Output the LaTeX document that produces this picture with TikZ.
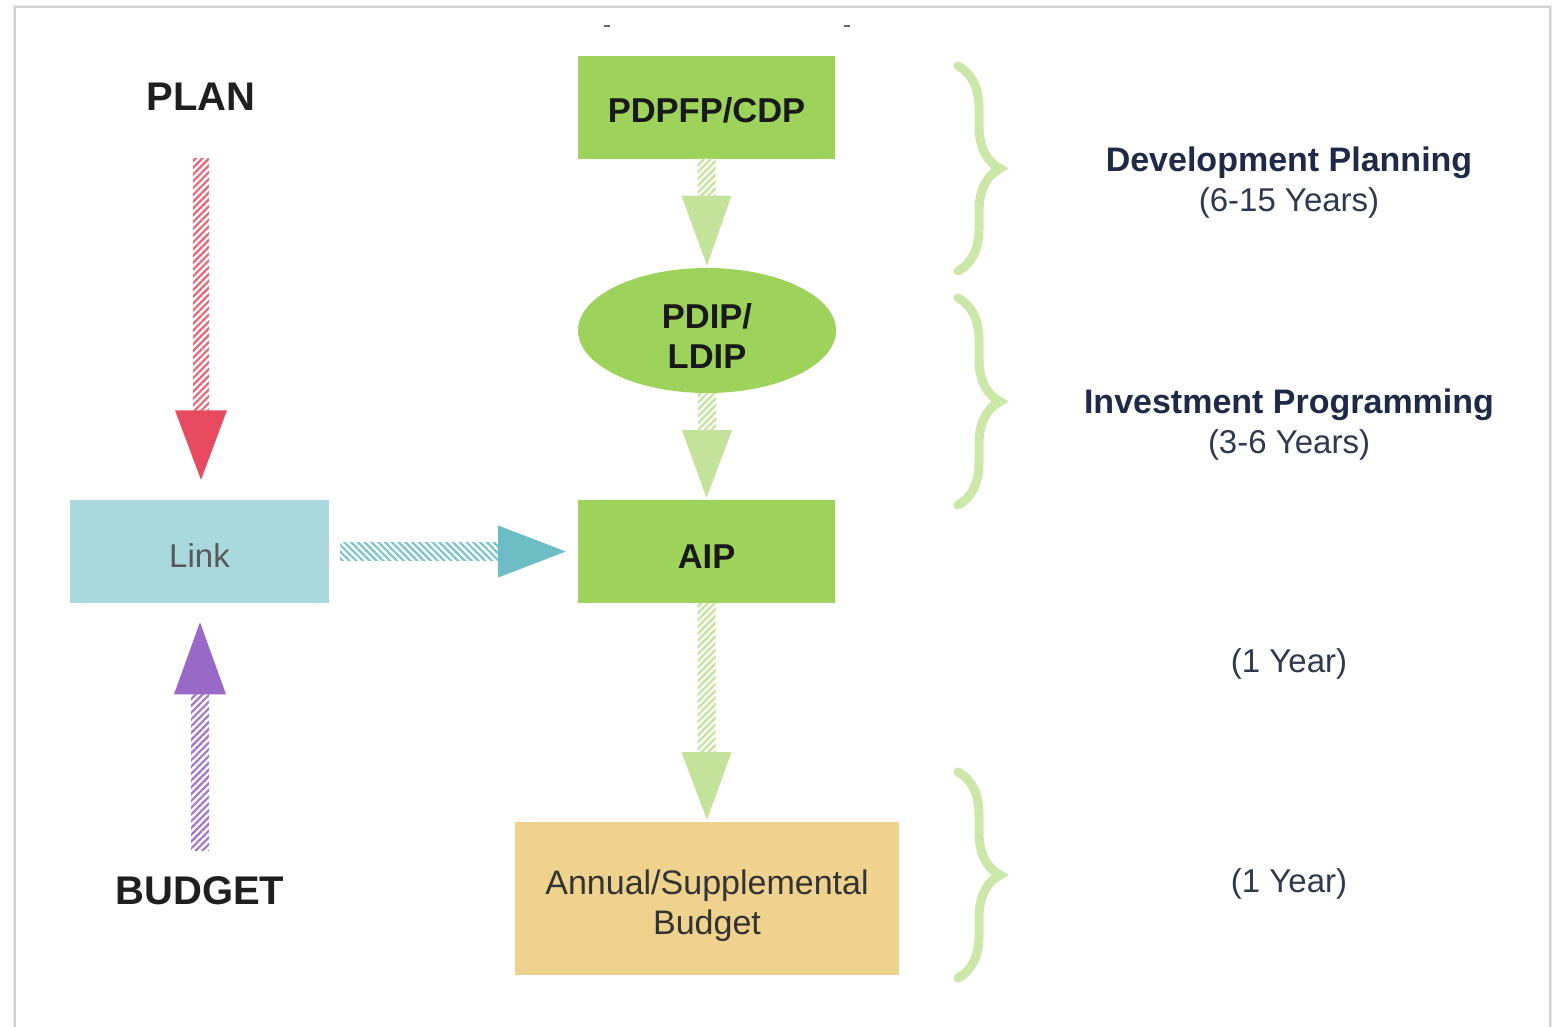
\documentclass[tikz,border=0pt]{standalone}
\usepackage{fontspec}
\setmainfont{Liberation Sans}
\usetikzlibrary{calc,shapes.geometric,patterns.meta,decorations.pathreplacing}
\definecolor{cred}{HTML}{E84A5F}
\definecolor{cpurple}{HTML}{9A68C6}
\definecolor{cteal}{HTML}{6DBDC5}
\definecolor{cgreenarrow}{HTML}{C4E39A}
\definecolor{cgreenbox}{HTML}{9DD35B}
\definecolor{clink}{HTML}{A9D9DC}
\definecolor{cbudget}{HTML}{EED28D}
\definecolor{cbrace}{HTML}{CCE8A8}
\definecolor{cnavy}{HTML}{1E2A47}
\definecolor{cgraytext}{HTML}{2F3A4F}
\newcommand\sidetitlefont{\fontsize{34}{40}\selectfont\bfseries}
\tikzset{
  bigword/.style={font=\fontsize{40}{44}\selectfont\bfseries, text=black!88},
  greenbox/.style={fill=cgreenbox, draw=none, minimum width=257pt, minimum height=103pt, inner sep=0pt, font=\fontsize{34.5}{40}\selectfont\bfseries, text=black!90, text depth=0pt},
  sidelabel/.style={align=center, text=cgraytext, font=\fontsize{33}{40}\selectfont},
  bracestyle/.style={draw=cbrace, line width=9pt, line cap=round, decorate, decoration={brace, amplitude=42pt}},
  hatchv/.style={pattern={Lines[angle=45,distance=4.8pt,line width=2.2pt]}, pattern color=#1},
  hatchh/.style={pattern={Lines[angle=-45,distance=4.8pt,line width=2.2pt]}, pattern color=#1}
}
\begin{document}
\begin{tikzpicture}[x=1pt,y=-1pt]
\useasboundingbox (0,0) rectangle (1562,1026);
% card
\fill[white] (0,0) rectangle (1562,1026);
\draw[black!8, line width=4pt] (15,7) rectangle (1550,1060);
\draw[black!18, line width=1.2pt, fill=white] (15,7) rectangle (1550,1060);
\draw[black!60, line width=1.5pt] (604,26) -- (610,26);
\draw[black!60, line width=1.5pt] (844,26) -- (850,26);

% left column
\node[bigword] (plan) at (201,97) {PLAN};
\node[bigword] (budgetword) at (200,891) {BUDGET};
\node[fill=clink, minimum width=259pt, minimum height=103pt, inner sep=0pt,
      text height=32pt, text depth=0pt,
      font=\fontsize{33}{38}\selectfont, text=black!65] (link) at (199.5,551.5) {Link};

% centre column
\node[greenbox, text height=31.5pt] (pdpfp) at (706.5,107) {PDPFP/CDP};
\node[ellipse, fill=cgreenbox, minimum width=258pt, minimum height=125pt, inner sep=0pt,
      label={[yshift=-5pt, align=center, font=\fontsize{34.5}{40}\selectfont\bfseries, text=black!90]center:PDIP/\\LDIP}] (pdip) at (707,330.5) {};
\node[greenbox, text height=33.5pt] (aip) at (706.5,551.5) {AIP};
\node[fill=cbudget, minimum width=384pt, minimum height=153pt, inner sep=0pt,
      label={[yshift=-7pt, align=center, font=\fontsize{34}{40}\selectfont, text=black!80]center:Annual/Supplemental\\Budget}] (annual) at (707,898.5) {};

% right labels
\node[sidelabel] (devplan) at (1289,183) {\textcolor{cnavy}{\sidetitlefont Development Planning}\\(6-15 Years)};
\node[sidelabel] (invprog) at (1289,425) {\textcolor{cnavy}{\sidetitlefont Investment Programming}\\(3-6 Years)};
\node[sidelabel] (oneyear1) at (1289,664) {(1 Year)};
\node[sidelabel] (oneyear2) at (1289,884) {(1 Year)};

% braces
\draw[bracestyle] (958,66) -- (958,271);
\draw[bracestyle] (958,298) -- (958,505);
\draw[bracestyle] (958,772) -- (958,978);

% red arrow PLAN -> Link
\coordinate (rtop) at ($(plan.south)+(0,44)$);
\path[hatchv=cred!85] ($(rtop)+(-8,0)$) rectangle ($(rtop)+(8,252)$);
\fill[cred] ($(rtop)+(-26,252)$) -- ($(rtop)+(26,252)$) -- ($(link.north)+(1.5,-20)$) -- cycle;

% purple arrow BUDGET -> Link
\coordinate (pbot) at ($(budgetword.north)+(0,-23)$);
\path[hatchv=cpurple!90] ($(pbot)+(-9,0)$) rectangle ($(pbot)+(9,-156)$);
\fill[cpurple] ($(pbot)+(-26,-156)$) -- ($(pbot)+(26,-156)$) -- ($(link.south)+(0.5,19)$) -- cycle;

% teal arrow Link -> AIP
\coordinate (tl) at ($(link.east)+(11,0)$);
\path[hatchh=cteal!90] ($(tl)+(0,-9)$) rectangle ($(tl)+(158,9)$);
\fill[cteal] ($(tl)+(158,-26)$) -- ($(tl)+(158,26)$) -- ($(aip.west)+(-12,0)$) -- cycle;

% green arrows
\path[hatchv=cgreenarrow] ($(pdpfp.south)+(-9,0)$) rectangle ($(pdpfp.south)+(9,37)$);
\fill[cgreenarrow] ($(pdpfp.south)+(-25,37)$) -- ($(pdpfp.south)+(25,37)$) -- ($(pdip.north)+(0,-2)$) -- cycle;

\path[hatchv=cgreenarrow] ($(pdip.south)+(-9,0)$) rectangle ($(pdip.south)+(9,37)$);
\fill[cgreenarrow] ($(pdip.south)+(-25,37)$) -- ($(pdip.south)+(25,37)$) -- ($(aip.north)+(0,-2)$) -- cycle;

\path[hatchv=cgreenarrow] ($(aip.south)+(-9,0)$) rectangle ($(aip.south)+(9,149)$);
\fill[cgreenarrow] ($(aip.south)+(-25,149)$) -- ($(aip.south)+(25,149)$) -- ($(annual.north)+(0,-2)$) -- cycle;
\end{tikzpicture}
\end{document}
